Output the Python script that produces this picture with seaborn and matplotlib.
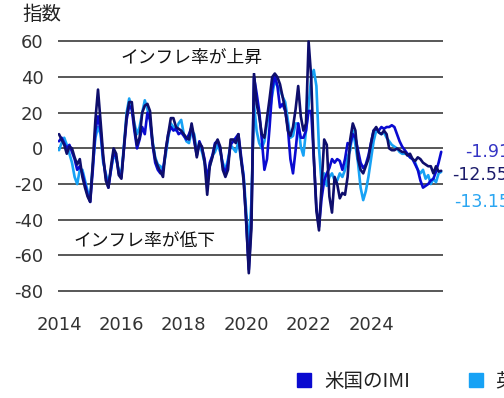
import numpy as np
import pandas as pd
import matplotlib
matplotlib.use("Agg")
import matplotlib.pyplot as plt
from matplotlib.lines import Line2D
from matplotlib.patches import Rectangle
import matplotlib.transforms as mtransforms
import seaborn as sns

# Monthly inflation momentum indices, Jan 2014 onwards
us_imi = [4, 6, 3, 0, 2, -2, -6, -12, -10, -14, -20, -26, -30, -12, 10, 18, 10, -6, -16, -22,
          -12, -2, -5, -14, -16, 0, 16, 24, 22, 10, 0, 5, 12, 8, 20, 16, 2, -8, -12, -14,
          -12, -2, 8, 12, 10, 11, 8, 9, 7, 5, 8, 12, 4, -4, 4, 0, -6, -18, -8, -4,
          3, 4, 0, -10, -14, -8, 2, 4, 6, 8, -4, -16, -42, -68, -40, 40, 31, 21, 5, -12,
          -6, 12, 33, 41, 35, 23, 25, 21, 12, -6, -14, -1, 14, 6, 6, 10, 21, 21, -5, -33,
          -44, -28, -18, -14, -11, -6, -8, -6, -7, -12, -6, 3, 2, 8, 6, -1, -8, -11, -9, -4,
          3, 10, 11, 10, 12, 11, 12, 12, 13, 12, 8, 4, 1, -1, -3, -5, -6, -9, -12, -18,
          -22, -21, -20, -18, -17, -13, -8, -1.91]

uk_imi = [-1, 3, 6, 2, -3, -8, -16, -20, -12, -12, -18, -24, -26, -10, 6, 12, 8, -8, -14, -20,
          -12, -4, -6, -12, -14, 2, 20, 28, 22, 14, 8, 12, 20, 27, 22, 16, 4, -5, -9, -10,
          -12, -4, 6, 14, 12, 10, 14, 16, 8, 4, 3, 10, 8, -2, 2, -2, -8, -16, -10, -4,
          -2, 2, -2, -8, -12, -6, 2, 0, -2, 4, -6, -15, -35, -55, -30, 25, 10, 3, 0, 4,
          14, 20, 30, 38, 35, 33, 29, 26, 16, 6, 7, 14, 14, 1, -4, 10, 24, 40, 44, 35,
          0, -20, -14, -21, -16, -14, -18, -18, -14, -16, -12, -5, -1, 10, 2, -8, -22, -29, -24, -16,
          -6, 4, 10, 9, 8, 9, 6, 4, 2, 1, 0, -2, -3, -3, -3, -5, -6, -8, -12, -14,
          -12, -17, -15, -20, -17, -19, -14, -13.15]

ez_imi = [8, 5, 2, -3, 1, 0, -5, -9, -6, -16, -22, -27, -30, -8, 16, 33, 15, -4, -18, -22,
          -10, 0, -3, -15, -17, 1, 18, 26, 26, 12, 2, 6, 20, 24, 25, 21, 3, -6, -10, -13,
          -16, -1, 8, 17, 17, 12, 11, 10, 8, 6, 5, 14, 6, -5, 3, 1, -8, -26, -10, -5,
          2, 5, 1, -12, -16, -12, 5, 5, 3, 8, -6, -18, -40, -70, -45, 42, 25, 18, 8, 6,
          17, 28, 40, 42, 40, 36, 29, 22, 10, 7, 12, 22, 35, 18, 10, 14, 60, 40, -5, -35,
          -46, -21, 5, 2, -27, -36, -16, -20, -28, -25, -26, -16, 5, 14, 10, -6, -12, -14, -10, -6,
          3, 10, 12, 9, 8, 10, 8, 0, -1, -1, 0, -1, -2, -2, -4, -3, -6, -7, -5, -6,
          -8, -9, -10, -10, -14, -10, -13, -12.55]

series_names = ["米国のIMI", "英国のIMI", "ユーロ圏のIMI"]
series_colors = ["#0a0ad0", "#17a2f5", "#0e0e6c"]
end_labels = ["-1.91", "-13.15", "-12.55"]
year_ticks = [2014, 2016, 2018, 2020, 2022, 2024]
y_ticks = [-80, -60, -40, -20, 0, 20, 40, 60]

n = len(us_imi)
years = 2014 + np.arange(n) / 12.0

df = pd.DataFrame({
    "year": np.tile(years, 3),
    "value": np.concatenate([us_imi, uk_imi, ez_imi]),
    "series": np.repeat(series_names, n),
})

sns.set_theme(style="white")
plt.rcParams["font.family"] = ["DejaVu Sans", "Noto Sans CJK JP"]
cjk = ["Noto Sans CJK JP", "DejaVu Sans"]

W, H = 504, 398
fig = plt.figure(figsize=(W / 100, H / 100), dpi=100)

ymin, ymax = -81, 62
ax_left, ax_right = 58, 443
ax_top, ax_bottom = 37.9, 292.8
ax = fig.add_axes([ax_left / W, 1 - ax_bottom / H,
                   (ax_right - ax_left) / W, (ax_bottom - ax_top) / H])

palette = dict(zip(series_names, series_colors))
draw_order = ["英国のIMI", "米国のIMI", "ユーロ圏のIMI"]
for name in draw_order:
    sns.lineplot(data=df[df["series"] == name], x="year", y="value",
                 color=palette[name], linewidth=1.9, ax=ax, legend=False,
                 zorder=3)

ax.set_xlim(2014 - 1 / 31.2, 2014 + (ax_right - 59) / 31.2)
ax.set_ylim(ymin, ymax)
ax.set_xticks(year_ticks)
ax.set_xticklabels([str(y) for y in year_ticks])
ax.set_yticks(y_ticks)
ax.set_yticklabels([str(v) for v in y_ticks])
ax.set_xlabel("")
ax.set_ylabel("")
for s in ax.spines.values():
    s.set_visible(False)
ax.yaxis.grid(True, color="#4a4a4a", linewidth=1.3)
ax.xaxis.grid(False)
ax.set_axisbelow(True)
ax.tick_params(axis="y", length=0, pad=10.5, labelsize=13, labelcolor="#333333")
ax.tick_params(axis="x", length=0, pad=17, labelsize=13, labelcolor="#333333")

# white panel behind the upper annotation (pixel coordinates)
ax.add_patch(Rectangle((100, H - 73), 163, 29, transform=mtransforms.IdentityTransform(),
                       facecolor="white", edgecolor="none", zorder=4))
ax.text(2014 + (120 - 59) / 31.2, 50.5, "インフレ率が上昇", family=cjk,
        fontsize=12.8, color="#111111", ha="left", va="center", zorder=5)
ax.text(2014 + (73 - 59) / 31.2, -52, "インフレ率が低下", family=cjk,
        fontsize=12.8, color="#111111", ha="left", va="center", zorder=5)

# end-of-series value labels
blend = mtransforms.blended_transform_factory(ax.transAxes, ax.transData)
ax.text((465 - ax_left) / (ax_right - ax_left), -1.91, end_labels[0],
        transform=blend, color="#3434c4", fontsize=12.5, ha="left", va="center",
        clip_on=False)
ax.text((451.7 - ax_left) / (ax_right - ax_left), -15, end_labels[2],
        transform=blend, color="#1b1b6a", fontsize=12.5, ha="left", va="center",
        clip_on=False)
ax.text((454 - ax_left) / (ax_right - ax_left), -30, end_labels[1],
        transform=blend, color="#2aa6f2", fontsize=12.5, ha="left", va="center",
        clip_on=False)

fig.text(22 / W, 1 - 14 / H, "指数", family=cjk, fontsize=14, color="#222222",
         ha="left", va="center")

handles = [Line2D([], [], linestyle="none", marker="s", markersize=10,
                  markerfacecolor=c, markeredgecolor=c) for c in series_colors]
leg = fig.legend(handles, series_names, loc="center left", ncol=3,
                 bbox_to_anchor=(294.7 / W, 1 - 381.7 / H), frameon=False,
                 borderpad=0, borderaxespad=0, handlelength=1.0,
                 handletextpad=0.5, columnspacing=2.9,
                 prop={"family": cjk, "size": 14})
for t in leg.get_texts():
    t.set_color("#222222")

fig.savefig("out.png", dpi=100)
